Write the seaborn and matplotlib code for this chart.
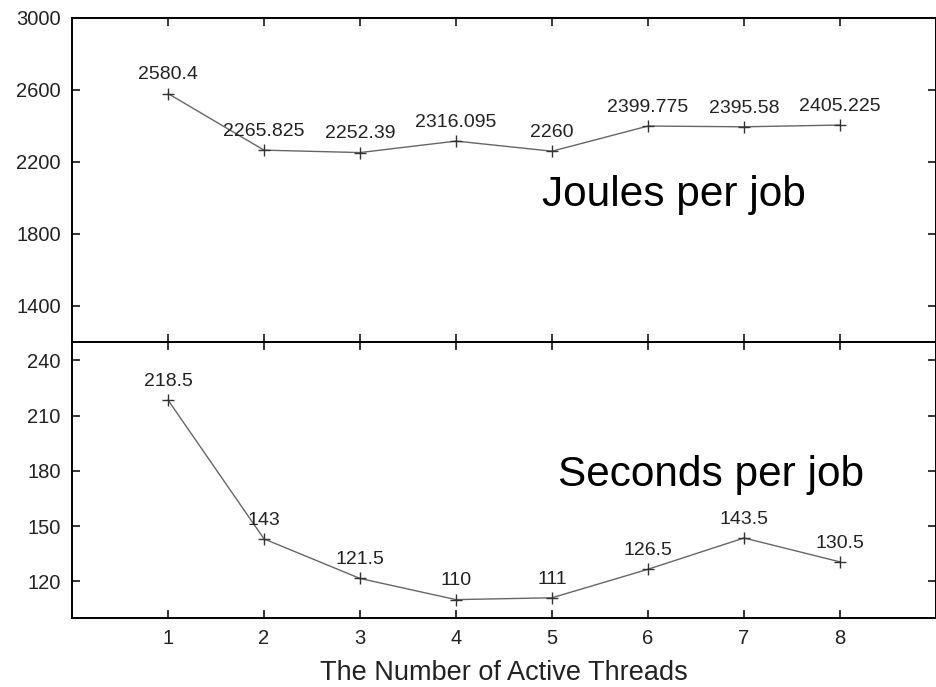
import matplotlib
matplotlib.use("Agg")
import matplotlib.pyplot as plt
import seaborn as sns
import pandas as pd

threads = [1, 2, 3, 4, 5, 6, 7, 8]
joules_per_job = [2580.4, 2265.825, 2252.39, 2316.095, 2260, 2399.775, 2395.58, 2405.225]
joules_labels = ["2580.4", "2265.825", "2252.39", "2316.095", "2260", "2399.775", "2395.58", "2405.225"]
seconds_per_job = [218.5, 143, 121.5, 110, 111, 126.5, 143.5, 130.5]
seconds_labels = ["218.5", "143", "121.5", "110", "111", "126.5", "143.5", "130.5"]

sns.set_style("ticks")
plt.rcParams["font.family"] = ["Liberation Sans", "DejaVu Sans"]

fig = plt.figure(figsize=(9.37, 6.87), dpi=100)
ax_top = fig.add_axes([0.0768, 0.5022, 0.9222, 0.4716])
ax_bot = fig.add_axes([0.0768, 0.1004, 0.9222, 0.4018], sharex=ax_top)

df = pd.DataFrame({"threads": threads, "joules": joules_per_job, "seconds": seconds_per_job})

line_kw = dict(color="#666666", linewidth=1.0, marker="+", markersize=9,
               markeredgewidth=1.0, markeredgecolor="#333333")
sns.lineplot(data=df, x="threads", y="joules", ax=ax_top, **line_kw)
sns.lineplot(data=df, x="threads", y="seconds", ax=ax_bot, **line_kw)

for x, y, s in zip(threads, joules_per_job, joules_labels):
    ax_top.annotate(s, (x, y), xytext=(0, 13.5), textcoords="offset points",
                    ha="center", va="center", fontsize=14, color="#222222")
for x, y, s in zip(threads, seconds_per_job, seconds_labels):
    ax_bot.annotate(s, (x, y), xytext=(0, 13.5), textcoords="offset points",
                    ha="center", va="center", fontsize=14, color="#222222")

ax_top.set_ylim(1200, 3000)
ax_top.set_yticks([1400, 1800, 2200, 2600, 3000])
ax_bot.set_ylim(100, 250)
ax_bot.set_yticks([120, 150, 180, 210, 240])
ax_bot.set_xlim(0, 9)
ax_bot.set_xticks(threads)

for ax in (ax_top, ax_bot):
    ax.set_ylabel("")
    ax.set_xlabel("")
    for sp in ax.spines.values():
        sp.set_visible(True)
        sp.set_linewidth(1.4)
        sp.set_color("black")
    ax.tick_params(direction="in", length=6, width=1.1, top=True, right=True,
                   labelsize=14.5, pad=8, colors="black", labelcolor="#222222")

ax_top.tick_params(labelbottom=False)

ax_top.text(0.697, 0.454, "Joules per job", transform=ax_top.transAxes,
            fontsize=30.5, ha="center", va="center", color="black")
ax_bot.text(0.74, 0.518, "Seconds per job", transform=ax_bot.transAxes,
            fontsize=30.5, ha="center", va="center", color="black")

ax_bot.set_xlabel("The Number of Active Threads", fontsize=19.5, color="#222222")
ax_bot.xaxis.set_label_coords(0.5, -0.2246)
ax_bot.xaxis.label.set_va("baseline")

fig.savefig("out.png", dpi=100)
